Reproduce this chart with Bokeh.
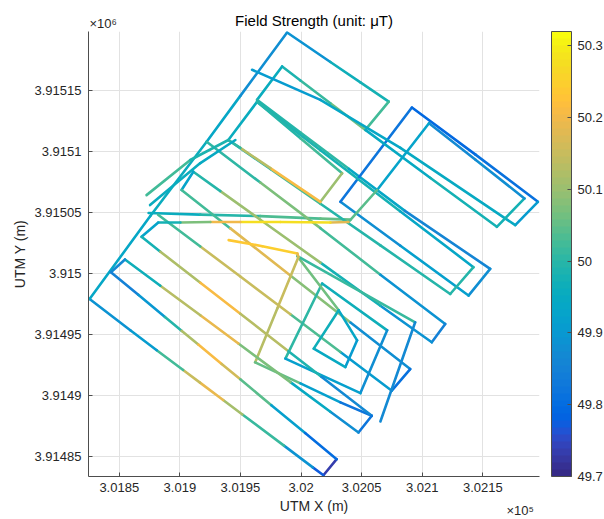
import numpy as np
from bokeh.plotting import figure
from bokeh.models import LinearColorMapper, ColorBar, FixedTicker, ColumnDataSource
from bokeh.embed import file_html
from bokeh.resources import INLINE

# ---------------- axis data ----------------
x_ticks = [301850, 301900, 301950, 302000, 302050, 302100, 302150]
x_tick_labels = ["3.0185", "3.019", "3.0195", "3.02", "3.0205", "3.021", "3.0215"]
y_ticks = [3914850, 3914900, 3914950, 3915000, 3915050, 3915100, 3915150]
y_tick_labels = ["3.91485", "3.9149", "3.91495", "3.915", "3.91505", "3.9151", "3.91515"]
cbar_ticks = [49.7, 49.8, 49.9, 50.0, 50.1, 50.2, 50.3]
cbar_labels = ["49.7", "49.8", "49.9", "50", "50.1", "50.2", "50.3"]
y_exponent = "×10⁶"
x_exponent = "×10⁵"

# ---------------- flight tracks: UTM easting, northing, field (uT) ----------------
p1_e = [302029.4, 302018.5, 302009.7, 301985.9, 301951.6, 301935.7, 301916.6, 301902.7, 301880.9,
        301859.1, 301825.5, 301875.6, 301922.1, 301949.9, 301988.5, 302024.2, 302049.0, 302072.4,
        302053.1, 302024.2, 301999.5, 301984.4, 301963.7, 301999.8, 302039.4, 302085.7, 302156.1,
        302138.2, 302082.0, 302032.5, 302091.5, 302144.0, 302195.5, 302176.8, 302082.0, 302016.0,
        301959.6]
p1_n = [3914847.9, 3914834.7, 3914841.2, 3914859.0, 3914884.6, 3914896.4, 3914910.7, 3914921.1,
        3914937.3, 3914953.6, 3914979.3, 3915047.3, 3915108.3, 3915145.9, 3915197.9, 3915173.7,
        3915157.0, 3915141.2, 3915118.0, 3915139.8, 3915158.5, 3915170.0, 3915142.6, 3915115.7,
        3915086.1, 3915051.6, 3915004.0, 3914982.1, 3915023.0, 3915059.0, 3915136.3, 3915097.7,
        3915059.0, 3915039.9, 3915103.2, 3915142.6, 3915167.3]
p1_f = [49.75, 49.72, 49.82, 49.95, 50.07, 50.15, 50.22, 50.08, 49.97, 49.85, 49.92, 49.95, 49.97,
        49.90, 49.85, 49.93, 50.00, 49.95, 50.10, 50.03, 50.00, 49.97, 49.95, 50.05, 49.97, 49.90,
        49.82, 49.93, 49.90, 49.85, 49.80, 49.78, 49.85, 49.97, 49.92, 49.95, 49.87]

p2_e = [302053.1, 302106.8, 302161.6, 302184.4, 302144.0, 302105.6, 302062.8, 302039.1, 302024.2,
        301983.0, 301949.9, 301925.2, 301900.4, 301882.2, 301868.4, 301883.9, 301916.9, 301949.9,
        301989.6, 302016.8, 302058.4, 302047.4, 302024.2, 301991.2, 301948.3, 301916.9, 301883.9,
        301854.7, 301843.1, 301865.7, 301887.7, 301901.4, 301915.2, 301934.5, 301949.9, 301975.5,
        302003.4, 302029.4]
p2_n = [3915118.0, 3915078.6, 3915038.5, 3915061.8, 3915093.5, 3915123.5, 3915068.7, 3915042.4,
        3915042.0, 3915042.4, 3915042.4, 3915042.4, 3915042.0, 3915042.0, 3915030.3, 3915018.1,
        3914992.6, 3914967.2, 3914936.5, 3914915.5, 3914883.5, 3914869.8, 3914886.8, 3914911.1,
        3914942.8, 3914965.9, 3914990.2, 3915011.7, 3915001.3, 3914982.7, 3914964.5, 3914953.2,
        3914941.9, 3914926.0, 3914913.4, 3914892.2, 3914869.3, 3914847.9]
p2_f = [50.00, 49.90, 50.05, 49.90, 49.85, 49.88, 49.98, 50.10, 50.25, 50.30, 50.25, 50.15, 50.00,
        49.95, 49.90, 50.05, 50.20, 50.22, 50.05, 49.93, 49.80, 49.85, 49.90, 50.00, 50.15, 50.22,
        50.05, 49.88, 49.85, 49.85, 49.95, 50.05, 50.20, 50.22, 50.10, 49.98, 49.85, 49.75]

p3_e = [301874.2, 301916.9, 301966.4, 302016.0, 302040.8]
p3_n = [3915049.8, 3915048.5, 3915047.3, 3915045.2, 3915044.4]
p3_f = [49.95, 49.97, 50.02, 50.05, 50.05]

p4_e = [301922.1, 301966.4, 302016.0, 302065.5, 302119.0, 302107.9, 302065.5, 302016.0, 301966.4,
        301933.4, 301911.1, 301901.4, 301941.7, 301991.2, 302040.8, 302090.1, 302074.9, 302032.5,
        301991.2, 301949.9, 301916.9, 301882.0]
p4_n = [3915108.3, 3915074.8, 3915037.4, 3914999.2, 3914958.8, 3914943.8, 3914973.8, 3915009.1,
        3915044.3, 3915067.8, 3915083.7, 3915068.7, 3915037.2, 3914998.6, 3914960.0, 3914921.8,
        3914904.1, 3914935.8, 3914966.8, 3914997.7, 3915022.4, 3915048.4]
p4_f = [49.97, 50.05, 50.10, 49.95, 49.82, 49.88, 49.90, 50.05, 50.15, 50.05, 49.95, 49.90, 50.15,
        50.20, 49.97, 49.78, 49.85, 49.97, 50.10, 50.20, 50.10, 49.95]

p5_e = [301940.0, 301963.7, 302016.0, 302082.0, 302142.3, 302123.1, 302065.5, 302016.0, 301974.7,
        301940.0]
p5_n = [3915109.7, 3915141.0, 3915101.3, 3915051.1, 3915005.4, 3914983.4, 3915023.3, 3915057.4,
        3915085.9, 3915109.7]
p5_f = [49.97, 49.95, 50.02, 49.93, 49.95, 50.05, 49.95, 50.05, 50.00, 49.97]

p6_e = [301963.7, 301999.5, 302033.9, 302016.0, 301974.7, 301949.9, 301940.0]
p6_n = [3915141.0, 3915111.1, 3915082.4, 3915059.0, 3915086.6, 3915103.2, 3915109.7]
p6_f = [49.95, 50.05, 50.00, 50.20, 50.22, 50.05, 49.97]

p7_e = [301940.3, 301968.1, 301997.0, 301997.8, 301980.5, 301962.1, 301999.5, 302032.5, 302058.4]
p7_n = [3915027.6, 3915022.6, 3915016.6, 3915013.6, 3914971.7, 3914927.3, 3914910.1, 3914894.5,
        3914883.5]
p7_f = [50.20, 50.28, 50.22, 50.15, 50.15, 50.12, 49.98, 49.85, 49.80]

p8_e = [301987.1, 302017.4, 302071.1, 302049.0, 301987.1]
p8_n = [3914930.4, 3914992.0, 3914953.6, 3914902.1, 3914930.4]
p8_f = [49.97, 50.05, 49.88, 49.88, 49.95]

p9_e = [301997.0, 302031.1, 302046.3, 302036.6, 302010.5, 302031.1]
p9_n = [3915014.4, 3914970.0, 3914945.4, 3914923.5, 3914938.6, 3914970.0]
p9_f = [50.15, 49.97, 49.90, 49.92, 49.97, 49.97]

p10_e = [301997.0, 302094.2, 302065.5]
p10_n = [3915014.4, 3914960.2, 3914878.8]
p10_f = [50.15, 49.88, 49.85]

p11_e = [301872.5, 301908.6, 301940.0]
p11_n = [3915064.5, 3915093.3, 3915109.7]
p11_f = [50.05, 50.00, 49.97]
p12_e = [301875.4, 301916.9, 301945.8]
p12_n = [3915056.3, 3915090.8, 3915109.7]
p12_f = [49.97, 49.95, 49.95]

tracks = [(p3_e, p3_n, p3_f), (p1_e, p1_n, p1_f), (p4_e, p4_n, p4_f), (p5_e, p5_n, p5_f),
          (p6_e, p6_n, p6_f), (p8_e, p8_n, p8_f), (p9_e, p9_n, p9_f), (p10_e, p10_n, p10_f),
          (p11_e, p11_n, p11_f), (p12_e, p12_n, p12_f), (p7_e, p7_n, p7_f), (p2_e, p2_n, p2_f)]

# parula colormap (64)
PARULA = [
(0.2081,0.1663,0.5292),(0.2116,0.1898,0.5777),(0.2123,0.2138,0.6270),(0.2081,0.2386,0.6771),
(0.1959,0.2645,0.7279),(0.1707,0.2919,0.7792),(0.1253,0.3242,0.8303),(0.0591,0.3598,0.8683),
(0.0117,0.3875,0.8820),(0.0060,0.4086,0.8828),(0.0165,0.4266,0.8786),(0.0329,0.4430,0.8720),
(0.0498,0.4586,0.8641),(0.0629,0.4737,0.8554),(0.0723,0.4887,0.8467),(0.0779,0.5040,0.8384),
(0.0793,0.5200,0.8312),(0.0749,0.5375,0.8263),(0.0641,0.5570,0.8240),(0.0488,0.5772,0.8228),
(0.0343,0.5966,0.8199),(0.0265,0.6137,0.8135),(0.0239,0.6287,0.8038),(0.0231,0.6418,0.7913),
(0.0228,0.6535,0.7768),(0.0267,0.6642,0.7607),(0.0384,0.6743,0.7436),(0.0590,0.6838,0.7254),
(0.0843,0.6928,0.7062),(0.1133,0.7015,0.6859),(0.1453,0.7098,0.6646),(0.1801,0.7177,0.6424),
(0.2178,0.7250,0.6193),(0.2586,0.7317,0.5954),(0.3022,0.7376,0.5712),(0.3482,0.7424,0.5473),
(0.3953,0.7459,0.5244),(0.4420,0.7481,0.5033),(0.4871,0.7491,0.4840),(0.5300,0.7491,0.4661),
(0.5709,0.7485,0.4494),(0.6099,0.7473,0.4337),(0.6473,0.7456,0.4188),(0.6834,0.7435,0.4044),
(0.7184,0.7411,0.3905),(0.7525,0.7384,0.3768),(0.7858,0.7356,0.3633),(0.8185,0.7327,0.3498),
(0.8507,0.7299,0.3360),(0.8824,0.7274,0.3217),(0.9139,0.7258,0.3063),(0.9450,0.7261,0.2886),
(0.9739,0.7314,0.2666),(0.9938,0.7455,0.2403),(0.9990,0.7653,0.2164),(0.9955,0.7861,0.1967),
(0.9880,0.8066,0.1794),(0.9789,0.8271,0.1633),(0.9697,0.8481,0.1475),(0.9626,0.8705,0.1309),
(0.9589,0.8949,0.1132),(0.9598,0.9218,0.0948),(0.9661,0.9514,0.0755),(0.9763,0.9831,0.0538)]
palette = ["#%02x%02x%02x" % tuple(int(round(c * 255)) for c in rgb) for rgb in PARULA]

FMIN, FMAX = 49.7, 50.32
mapper = LinearColorMapper(palette=palette, low=FMIN, high=FMAX)

xs, ys, fs = [], [], []
for E, N, F in tracks:
    for i in range(len(E) - 1):
        xs.append([E[i], E[i + 1]])
        ys.append([N[i], N[i + 1]])
        fs.append(0.5 * (F[i] + F[i + 1]))
src = ColumnDataSource(dict(xs=xs, ys=ys, f=fs))

FONT = "Liberation Sans"
p = figure(width=604, height=519, output_backend="svg", toolbar_location=None,
           x_range=(301824.6, 302196.8), y_range=(3914833.7, 3915198.7),
           min_border_left=88, min_border_right=65, min_border_top=31, min_border_bottom=43)
p.outline_line_color = None
p.background_fill_color = "white"

p.multi_line("xs", "ys", source=src, line_width=2.6, line_cap="round", line_join="round",
             line_color={"field": "f", "transform": mapper})

p.title.text = "Field Strength (unit: μT)"
p.title.align = "center"
p.title.text_font = FONT
p.title.text_font_size = "15px"
p.title.text_font_style = "normal"
p.title.text_color = "#000000"
p.title.standoff = 5

for ax in (p.xaxis[0], p.yaxis[0]):
    ax.major_label_text_font = FONT
    ax.major_label_text_font_size = "13px"
    ax.major_label_text_color = "#262626"
    ax.axis_label_text_font = FONT
    ax.axis_label_text_font_size = "14px"
    ax.axis_label_text_font_style = "normal"
    ax.axis_label_text_color = "#262626"
    ax.axis_line_color = "#4d4d4d"
    ax.major_tick_line_color = "#4d4d4d"
    ax.major_tick_in = 4
    ax.major_tick_out = 0
    ax.minor_tick_line_color = None

p.xaxis.ticker = FixedTicker(ticks=x_ticks)
p.xaxis.major_label_overrides = dict(zip(x_ticks, x_tick_labels))
p.yaxis.ticker = FixedTicker(ticks=y_ticks)
p.yaxis.major_label_overrides = dict(zip(y_ticks, y_tick_labels))
p.xaxis.axis_label = "UTM X (m)"
p.yaxis.axis_label = "UTM Y (m)"
p.xaxis.major_label_standoff = 6
p.yaxis.major_label_standoff = 7
p.xaxis.axis_label_standoff = 3
p.yaxis.axis_label_standoff = 4

p.grid.grid_line_color = "#e2e2e2"
p.grid.grid_line_width = 1

cb = ColorBar(color_mapper=mapper, ticker=FixedTicker(ticks=cbar_ticks),
              major_label_overrides=dict(zip(cbar_ticks, cbar_labels)),
              width=20, height=445, location=(463, 0), padding=0, margin=0,
              major_tick_in=4, major_tick_out=0, major_tick_line_color="#4d4d4d",
              bar_line_color="#4d4d4d", border_line_color=None, background_fill_alpha=0,
              label_standoff=6, major_label_text_font=FONT, major_label_text_font_size="13px",
              major_label_text_color="#262626")
p.add_layout(cb, "center")


def exponent_text(text, loc):
    m = LinearColorMapper(palette=["#ffffff"], low=0, high=1)
    return ColorBar(color_mapper=m, ticker=FixedTicker(ticks=[]), width=1, height=1,
                    orientation="horizontal",
                    location=loc, padding=0, margin=0, title=text,
                    title_text_font=FONT, title_text_font_size="13px",
                    title_text_font_style="normal", title_text_color="#262626",
                    title_standoff=2, bar_line_color=None, border_line_color=None,
                    background_fill_alpha=0, major_tick_line_color=None,
                    major_label_text_alpha=0)


p.add_layout(exponent_text(y_exponent, (1, 444)), "center")
p.add_layout(exponent_text(x_exponent, (418, -43)), "center")

open("out.html", "w").write(file_html(p, INLINE))
